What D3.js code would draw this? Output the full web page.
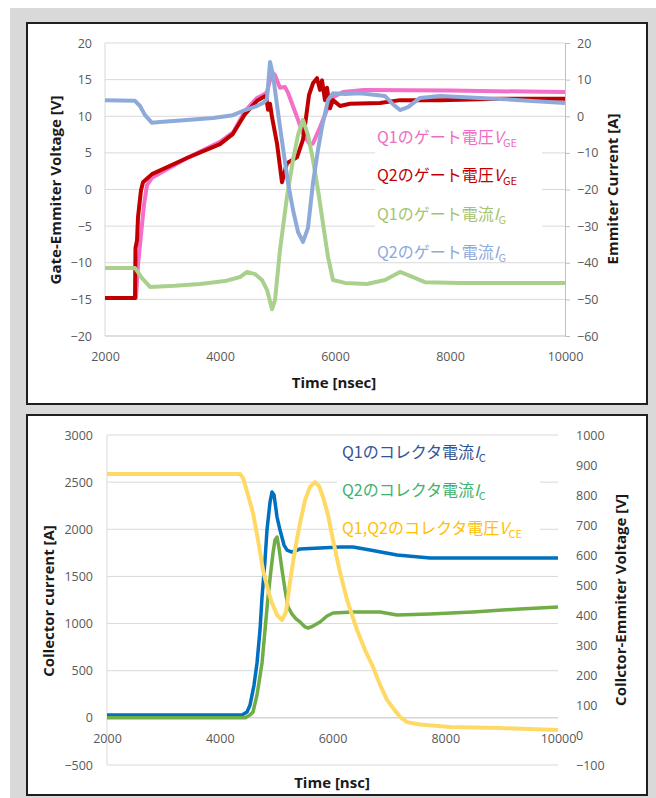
<!DOCTYPE html>
<html>
<head>
<meta charset="utf-8">
<script src="https://cdn.jsdelivr.net/npm/d3@7"></script>
<style>
  body { margin: 0; background: #fff; }
</style>
</head>
<body>
<script>
const timeTicks = [2000, 4000, 6000, 8000, 10000];
const gateVoltageTicks = [-20, -15, -10, -5, 0, 5, 10, 15, 20];
const gateCurrentTicks = [-60, -50, -40, -30, -20, -10, 0, 10, 20];
const collectorCurrentTicks = [-500, 0, 500, 1000, 1500, 2000, 2500, 3000];
const collectorVoltageTicks = [-100, 0, 100, 200, 300, 400, 500, 600, 700, 800, 900, 1000];

// [time nsec, value]
const q1GateVoltage = [[2000,-14.8],[2539,-14.8],[2574,-10.3],[2626,-6.2],[2678,-2.1],[2730,0.6],[2817,1.6],[3426,4.3],[4000,6.5],[4226,7.8],[4435,10.7],[4643,12.5],[4748,12.9],[4817,13.3],[4904,16.0],[4957,15.6],[5043,13.9],[5130,14.0],[5183,13.2],[5339,9.9],[5443,7.7],[5565,6.1],[5617,6.3],[5739,8.5],[5861,10.9],[5965,12.6],[6139,13.3],[6500,13.6],[8000,13.5],[10000,13.3]];
const q2GateVoltage = [[2000,-14.8],[2522,-14.8],[2530,-8.0],[2557,-6.9],[2574,-3.8],[2626,-0.1],[2661,1.0],[2817,2.1],[3426,4.3],[4000,6.2],[4226,7.6],[4435,10.3],[4643,12.1],[4748,12.6],[4800,12.8],[4835,10.9],[4870,11.7],[4904,9.9],[4991,6.3],[5078,1.0],[5165,3.6],[5252,4.0],[5339,4.4],[5443,6.8],[5496,9.8],[5548,12.9],[5617,14.5],[5687,15.2],[5739,13.6],[5774,14.9],[5826,12.2],[5861,13.9],[5913,11.1],[5965,12.2],[6087,11.4],[6261,11.7],[6783,11.8],[7130,12.2],[7826,12.2],[8870,12.4],[10000,12.4]];
const q1GateCurrent = [[2000,-41.4],[2522,-41.4],[2643,-44.2],[2783,-46.6],[3217,-46.3],[3652,-45.8],[4087,-45.0],[4348,-43.9],[4470,-42.5],[4609,-43.1],[4730,-44.7],[4817,-47.4],[4904,-52.7],[4957,-50.2],[5043,-36.5],[5165,-22.0],[5270,-11.9],[5357,-5.1],[5443,-1.0],[5530,-5.1],[5617,-11.9],[5704,-20.1],[5774,-27.5],[5878,-38.4],[5965,-44.7],[6174,-45.5],[6557,-45.8],[6870,-44.7],[7130,-42.5],[7304,-43.6],[7565,-45.3],[8174,-45.5],[10000,-45.5]];
const q2GateCurrent = [[2000,4.4],[2522,4.2],[2609,2.8],[2696,0.3],[2817,-1.8],[2956,-1.6],[3426,-1.0],[3878,-0.5],[4226,0.3],[4435,1.7],[4643,2.8],[4748,3.6],[4817,4.7],[4870,14.8],[4922,11.3],[4991,3.1],[5043,-2.9],[5113,-10.6],[5183,-18.2],[5270,-25.6],[5357,-31.6],[5443,-34.3],[5530,-30.5],[5617,-18.2],[5704,-9.2],[5774,-2.9],[5878,4.4],[5965,6.3],[6174,6.1],[6435,6.3],[6870,5.5],[7008,3.3],[7130,1.7],[7270,2.5],[7478,5.0],[7826,5.5],[8522,5.0],[9217,4.4],[10000,3.6]];

const q1CollectorCurrent = [[2000,30],[4395,30],[4484,62],[4537,136],[4608,348],[4661,582],[4714,932],[4750,1282],[4803,1674],[4838,1992],[4892,2289],[4927,2395],[4963,2364],[5016,2130],[5069,1992],[5140,1833],[5193,1780],[5282,1759],[5424,1791],[5779,1802],[6133,1812],[6364,1812],[6666,1780],[7145,1727],[7730,1695],[10000,1695]];
const q2CollectorCurrent = [[2000,0],[4448,0],[4537,30],[4590,62],[4661,243],[4750,582],[4803,932],[4856,1282],[4909,1568],[4945,1749],[4980,1886],[5016,1918],[5051,1802],[5105,1568],[5158,1356],[5211,1176],[5282,1101],[5353,1049],[5424,1017],[5513,964],[5566,953],[5654,974],[5779,1017],[5903,1080],[6009,1112],[6364,1123],[6843,1123],[7145,1091],[7730,1101],[8493,1123],[9327,1155],[10000,1176]];
const collectorVoltage = [[2000,870],[4360,870],[4413,857],[4501,800],[4590,740],[4679,650],[4767,550],[4856,483],[4927,440],[5016,400],[5105,383],[5175,410],[5246,510],[5335,617],[5424,707],[5513,783],[5601,827],[5690,843],[5761,830],[5832,793],[5921,733],[6009,650],[6133,543],[6258,450],[6435,350],[6577,283],[6719,227],[6843,167],[6967,117],[7074,90],[7198,60],[7322,43],[7553,35],[8085,27],[8972,23],[10000,17]];

const gateLegend = [
  { name: 'Q1のゲート電圧', sym: 'V', sub: 'GE' },
  { name: 'Q2のゲート電圧', sym: 'V', sub: 'GE' },
  { name: 'Q1のゲート電流', sym: 'I', sub: 'G' },
  { name: 'Q2のゲート電流', sym: 'I', sub: 'G' },
];
const collectorLegend = [
  { name: 'Q1のコレクタ電流', sym: 'I', sub: 'C' },
  { name: 'Q2のコレクタ電流', sym: 'I', sub: 'C' },
  { name: 'Q1,Q2のコレクタ電圧', sym: 'V', sub: 'CE' },
];

// ---- drawing ----
const W = 656, H = 798;
const font = "'Open Sans', sans-serif";
const jpFont = "'Noto Sans CJK JP', sans-serif";
const gridColor = '#d9d9d9';
const axisColor = '#bfbfbf';

const svg = d3.select('body').append('svg')
    .attr('width', W)
    .attr('height', H);

svg.append('rect')
    .attr('x', 10).attr('y', 8)
    .attr('width', W - 10).attr('height', H - 8)
    .attr('fill', '#d9d9d9');

function drawPanel(y0, h) {
    svg.append('rect')
        .attr('x', 27).attr('y', y0)
        .attr('width', 620).attr('height', h)
        .attr('fill', '#fff')
        .attr('stroke', '#1f1f1f')
        .attr('stroke-width', 2);
}

function styleAxis(g) {
    g.attr('font-size', 12.5)
        .attr('font-family', font)
        .attr('color', '#595959');
}

function axisTitle(text, x, y, rotate) {
    svg.append('text')
        .attr('transform', `translate(${x},${y})` + (rotate ? ' rotate(-90)' : ''))
        .attr('text-anchor', 'middle')
        .attr('dominant-baseline', 'central')
        .attr('font-family', font)
        .attr('font-weight', 700)
        .attr('font-size', 15)
        .attr('fill', '#1a1a1a')
        .text(text);
}

function drawLegend(items, colors, x, y, step) {
    items.forEach((d, i) => {
        const t = svg.append('text')
            .attr('x', x)
            .attr('y', y + i * step + 6)
            .attr('font-family', jpFont)
            .attr('font-size', 16)
            .attr('fill', colors[i]);
        t.append('tspan').text(d.name);
        t.append('tspan').attr('font-style', 'italic').text(d.sym);
        t.append('tspan').attr('font-size', 11).attr('dy', 4).text(d.sub);
    });
}

function drawSeries(data, x, y, color, width) {
    const line = d3.line()
        .x(d => x(d[0]))
        .y(d => y(d[1]));
    svg.append('path')
        .datum(data)
        .attr('fill', 'none')
        .attr('stroke', color)
        .attr('stroke-width', width)
        .attr('stroke-linejoin', 'round')
        .attr('d', line);
}

// ===== top chart: gate voltage / gate current =====
drawPanel(23, 381);

const x1 = d3.scaleLinear().domain([2000, 10000]).range([105, 565]);
const yV = d3.scaleLinear().domain([-20, 20]).range([336, 43]);
const yA = d3.scaleLinear().domain([-60, 20]).range([336, 43]);

svg.append('g').selectAll('line')
    .data(gateVoltageTicks.filter(v => v !== -20))
    .join('line')
    .attr('x1', 105).attr('x2', 565)
    .attr('y1', d => yV(d)).attr('y2', d => yV(d))
    .attr('stroke', gridColor);

svg.append('line')
    .attr('x1', 105).attr('x2', 105).attr('y1', 43).attr('y2', 336)
    .attr('stroke', gridColor);
svg.append('line')
    .attr('x1', 105).attr('x2', 565).attr('y1', 336).attr('y2', 336)
    .attr('stroke', axisColor);

const topLeft = svg.append('g')
    .attr('transform', 'translate(105,0)')
    .call(d3.axisLeft(yV).tickValues(gateVoltageTicks).tickSize(0).tickPadding(13));
topLeft.select('.domain').remove();
styleAxis(topLeft);

const topRight = svg.append('g')
    .attr('transform', 'translate(565,0)')
    .call(d3.axisRight(yA).tickValues(gateCurrentTicks).tickSize(5).tickSizeOuter(0).tickPadding(7));
topRight.selectAll('.domain, line').attr('stroke', axisColor);
styleAxis(topRight);

const topBottom = svg.append('g')
    .attr('transform', 'translate(0,336)')
    .call(d3.axisBottom(x1).tickValues(timeTicks).tickSize(0).tickPadding(16).tickFormat(d3.format('d')));
topBottom.select('.domain').remove();
styleAxis(topBottom);

axisTitle('Gate-Emmiter Voltage [V]', 55, 190, true);
axisTitle('Emmiter Current [A]', 612, 189, true);
axisTitle('Time [nsec]', 334, 382, false);

svg.append('rect')
    .attr('x', 375).attr('y', 120)
    .attr('width', 167).attr('height', 138)
    .attr('fill', '#fff');
drawLegend(gateLegend, ['#ee6cc2', '#c00000', '#a6c46e', '#8eaadb'], 377, 137, 38.3);

drawSeries(q1GateVoltage, x1, yV, '#f36fc8', 4);
drawSeries(q2GateVoltage, x1, yV, '#c00000', 4);
drawSeries(q1GateCurrent, x1, yA, '#a9d18e', 4);
drawSeries(q2GateCurrent, x1, yA, '#8eaadb', 4);

// ===== bottom chart: collector current / collector voltage =====
drawPanel(415, 380);

const x2 = d3.scaleLinear().domain([2000, 10000]).range([107, 558]);
const yI = d3.scaleLinear().domain([-500, 3000]).range([765, 435]);
const yCE = d3.scaleLinear().domain([-100, 1000]).range([765, 435]);

svg.append('g').selectAll('line')
    .data(collectorCurrentTicks.filter(v => v !== 0))
    .join('line')
    .attr('x1', 107).attr('x2', 558)
    .attr('y1', d => yI(d)).attr('y2', d => yI(d))
    .attr('stroke', gridColor);

svg.append('line')
    .attr('x1', 107).attr('x2', 107).attr('y1', 435).attr('y2', 765)
    .attr('stroke', gridColor);
svg.append('line')
    .attr('x1', 107).attr('x2', 558).attr('y1', yI(0)).attr('y2', yI(0))
    .attr('stroke', axisColor);

const botLeft = svg.append('g')
    .attr('transform', 'translate(107,0)')
    .call(d3.axisLeft(yI).tickValues(collectorCurrentTicks).tickSize(0).tickPadding(14).tickFormat(d3.format('d')));
botLeft.select('.domain').remove();
styleAxis(botLeft);

const botRight = svg.append('g')
    .attr('transform', 'translate(558,0)')
    .call(d3.axisRight(yCE).tickValues(collectorVoltageTicks).tickSize(0).tickPadding(18).tickFormat(d3.format('d')));
botRight.select('.domain').remove();
styleAxis(botRight);

const botBottom = svg.append('g')
    .attr('transform', `translate(0,${yI(0)})`)
    .call(d3.axisBottom(x2).tickValues(timeTicks).tickSize(0).tickPadding(16).tickFormat(d3.format('d')));
botBottom.select('.domain').remove();
styleAxis(botBottom);

axisTitle('Collector current [A]', 48, 601, true);
axisTitle('Collctor-Emmiter Voltage [V]', 620, 600, true);
axisTitle('Time [nsc]', 332, 782, false);

svg.append('rect')
    .attr('x', 337).attr('y', 438)
    .attr('width', 203).attr('height', 106)
    .attr('fill', '#fff');
drawLegend(collectorLegend, ['#2f5597', '#3db36b', '#ffc000'], 342, 452, 38);

drawSeries(q1CollectorCurrent, x2, yI, '#0070c0', 3.5);
drawSeries(q2CollectorCurrent, x2, yI, '#70ad47', 3.5);
drawSeries(collectorVoltage, x2, yCE, '#ffd966', 4);
</script>
</body>
</html>
